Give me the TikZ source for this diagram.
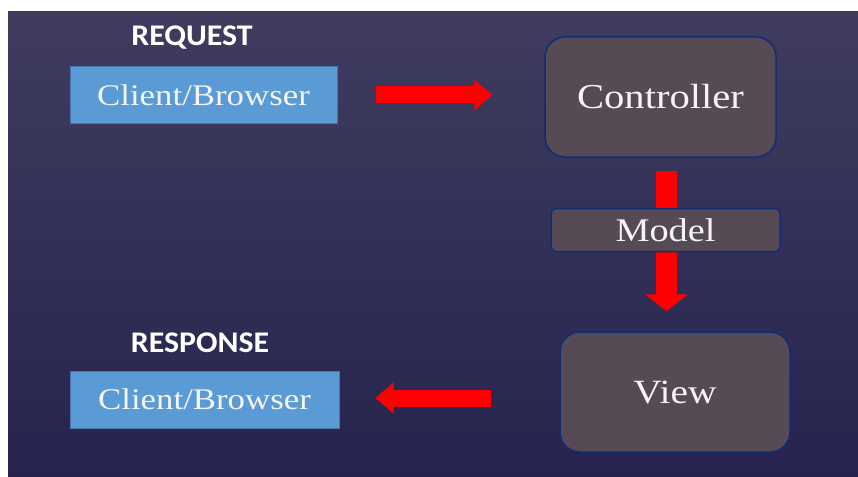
\documentclass[tikz,border=0pt]{standalone}
\usepackage{fontspec}
\usetikzlibrary{arrows.meta}
\newfontfamily\boxfont[FakeStretch=1.16]{Liberation Serif}
\newfontfamily\labfont[FakeStretch=1.06]{Carlito}
\definecolor{bgtop}{RGB}{64,60,96}
\definecolor{bgbot}{RGB}{38,36,78}
\definecolor{cbfill}{RGB}{91,155,213}
\definecolor{cbline}{RGB}{70,120,170}
\definecolor{mvcfill}{RGB}{86,74,84}
\definecolor{mvcline}{RGB}{16,44,120}
\definecolor{txt}{RGB}{244,244,244}
\definecolor{arr}{RGB}{255,0,0}
\tikzset{
  cbbox/.style={draw=cbline, line width=1pt, fill=cbfill, inner sep=0pt,
    text=txt, font=\boxfont\fontsize{30}{34}\selectfont},
  mvcbox/.style={draw=mvcline, line width=1.5pt, fill=mvcfill, inner sep=0pt,
    text=txt, font=\boxfont\fontsize{35}{40}\selectfont},
  lab/.style={text=white, font=\labfont\bfseries\fontsize{30}{34}\selectfont, inner sep=0pt},
  redarrow/.style={draw=arr, line width=17pt,
    -{Triangle[length=18pt, width=30pt, fill=arr]}},
  redarrowv/.style={draw=arr, line width=21pt,
    -{Triangle[length=17pt, width=42pt, fill=arr]}}
}
\begin{document}
\begin{tikzpicture}[x=1pt, y=-1pt]
\useasboundingbox (0,0) rectangle (858,476);
\fill[white] (0,0) rectangle (858,476);
\shade[top color=bgtop, bottom color=bgbot] (8,12) rectangle (858,476);

\node[lab] (req) at (192,38) {REQUEST};
\node[lab] (resp) at (200,343) {RESPONSE};

\node[cbbox, minimum width=267pt, minimum height=56pt] (cb1) at (203.5,95) {Client/Browser};
\node[cbbox, minimum width=269pt, minimum height=57pt] (cb2) at (204.5,399.5) {Client/Browser};

\node[mvcbox, rounded corners=20pt, minimum width=231pt, minimum height=120pt] (ctrl) at (660.5,97) {\raisebox{-2pt}{Controller}};
\node[mvcbox, rounded corners=20pt, minimum width=230pt, minimum height=120pt,
  font=\boxfont\fontsize{34}{38}\selectfont] (view) at (675,392) {View};

\coordinate (a1s) at ([xshift=38pt]cb1.east);
\coordinate (a1e) at ([xshift=-52pt]ctrl.west);
\draw[redarrow] (a1s) -- (a1e |- a1s);

\coordinate (a2s) at ([xshift=-68pt, yshift=-6pt]view.west);
\coordinate (a2e) at ([xshift=36pt]cb2.east);
\draw[redarrow] (a2s) -- (a2e |- a2s);

\coordinate (a3s) at ([xshift=6pt, yshift=-13pt]ctrl.south);
\coordinate (a3e) at ([xshift=-8.5pt, yshift=20pt]view.north);
\draw[redarrowv] (a3s) -- (a3s |- a3e);

\node[mvcbox, rounded corners=5pt, minimum width=229pt, minimum height=43pt,
  font=\boxfont\fontsize{33}{38}\selectfont] (model) at (665.5,230) {Model};
\end{tikzpicture}
\end{document}
